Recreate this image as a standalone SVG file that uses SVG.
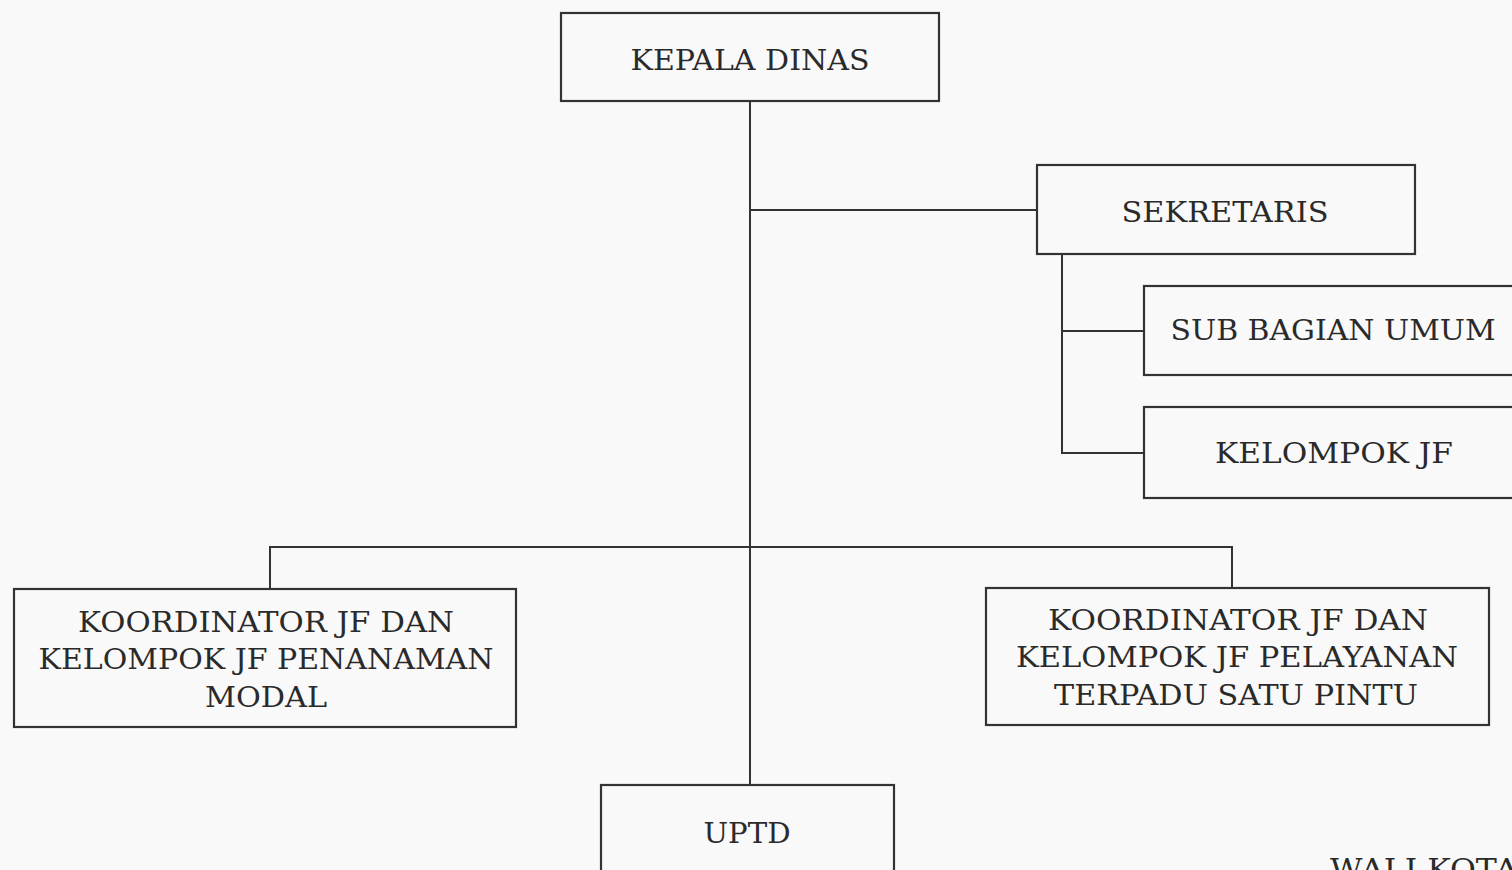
<svg xmlns="http://www.w3.org/2000/svg" width="1512" height="870" viewBox="0 0 1512 870">
<style>
.box{fill:none;stroke:#333;stroke-width:2.2}
.ln{fill:none;stroke:#333;stroke-width:2}
text{font-family:"DejaVu Serif","Liberation Serif",serif;font-size:27px;fill:#2a2a2a;text-anchor:middle}
</style>
<rect width="1512" height="870" fill="#f9f9f9"/>
<g id="connectors">
<path class="ln" d="M750 101V785"/>
<path class="ln" d="M750 210H1037"/>
<path class="ln" d="M1062 254V453H1144M1062 331H1144"/>
<path class="ln" d="M270 589V547H1232V588"/>
</g>
<g id="kepala-dinas"><rect class="box" x="561" y="13" width="378" height="88"/><text x="750" y="70" textLength="239" lengthAdjust="spacingAndGlyphs">KEPALA DINAS</text></g>
<g id="sekretaris"><rect class="box" x="1037" y="165" width="378" height="89"/><text x="1225" y="222" textLength="207" lengthAdjust="spacingAndGlyphs">SEKRETARIS</text></g>
<g id="sub-bagian-umum"><rect class="box" x="1144" y="286" width="390" height="89"/><text x="1333" y="340" textLength="325" lengthAdjust="spacingAndGlyphs">SUB BAGIAN UMUM</text></g>
<g id="kelompok-jf"><rect class="box" x="1144" y="407" width="390" height="91"/><text x="1334" y="463" textLength="238" lengthAdjust="spacingAndGlyphs">KELOMPOK JF</text></g>
<g id="koordinator-penanaman-modal"><rect class="box" x="14" y="589" width="502" height="138"/>
<text x="266" y="632" textLength="376" lengthAdjust="spacingAndGlyphs">KOORDINATOR JF DAN</text>
<text x="266" y="669" textLength="455" lengthAdjust="spacingAndGlyphs">KELOMPOK JF PENANAMAN</text>
<text x="266" y="707" textLength="122" lengthAdjust="spacingAndGlyphs">MODAL</text></g>
<g id="koordinator-ptsp"><rect class="box" x="986" y="588" width="503" height="137"/>
<text x="1238" y="630" textLength="380" lengthAdjust="spacingAndGlyphs">KOORDINATOR JF DAN</text>
<text x="1237" y="667" textLength="442" lengthAdjust="spacingAndGlyphs">KELOMPOK JF PELAYANAN</text>
<text x="1236" y="705" textLength="364" lengthAdjust="spacingAndGlyphs">TERPADU SATU PINTU</text></g>
<g id="uptd"><rect class="box" x="601" y="785" width="293" height="100"/><text x="747" y="843" textLength="87" lengthAdjust="spacingAndGlyphs">UPTD</text></g>
<text x="1330" y="879" style="text-anchor:start" textLength="188" lengthAdjust="spacingAndGlyphs">WALI KOTA</text>
</svg>
